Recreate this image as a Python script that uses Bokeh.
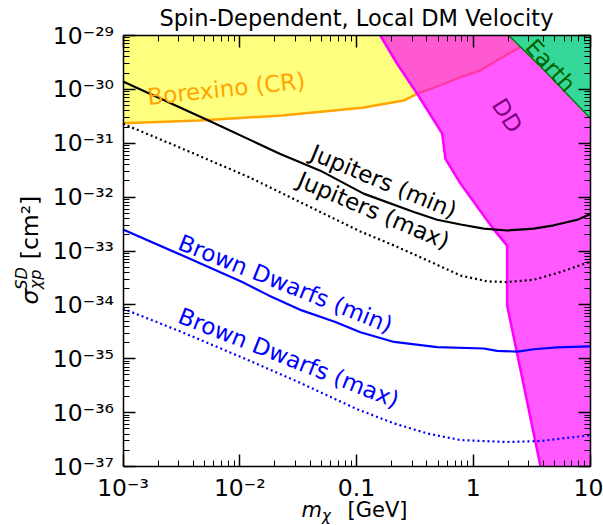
from bokeh.plotting import figure
from bokeh.models import LogAxis, FixedTicker, CustomJSTickFormatter, Label
from bokeh.embed import file_html
from bokeh.resources import INLINE

FONT = "DejaVu Sans"

# ---------------- data ----------------
x_lim = [1e-3, 10.0]
y_lim = [1e-37, 1e-29]
x_ticks = [1e-3, 1e-2, 1e-1, 1.0, 10.0]
x_tick_labels = ["10⁻³", "10⁻²", "0.1", "1", "10"]
y_ticks = [1e-37, 1e-36, 1e-35, 1e-34, 1e-33, 1e-32, 1e-31, 1e-30, 1e-29]
y_tick_labels = ["10⁻³⁷", "10⁻³⁶", "10⁻³⁵", "10⁻³⁴", "10⁻³³",
                 "10⁻³²", "10⁻³¹", "10⁻³⁰", "10⁻²⁹"]

title_text = "Spin-Dependent, Local DM Velocity"

jup_min_m = [0.001, 0.0054, 0.022, 0.049, 0.115, 0.31, 0.49, 0.78, 1.23, 1.95, 3.3, 4.9, 7.8, 10.0]
jup_min_s = [1.4e-30, 2.65e-31, 6.4e-32, 3.1e-32, 1.16e-32, 5.3e-33, 3.8e-33, 3.1e-33,
             2.6e-33, 2.4e-33, 2.6e-33, 3.0e-33, 3.8e-33, 4.8e-33]

jup_max_m = [0.001, 0.0032, 0.012, 0.108, 0.209, 0.404, 0.78, 1.32, 1.95, 3.3, 5.6, 10.0]
jup_max_s = [2.3e-31, 8.0e-32, 2.35e-32, 2.3e-33, 1.27e-33, 6.7e-34, 3.5e-34, 2.73e-34,
             2.65e-34, 2.93e-34, 4.07e-34, 6.3e-34]

bd_min_m = [0.001, 0.0032, 0.0105, 0.0177, 0.034, 0.066, 0.108, 0.21, 0.49, 1.23, 1.6, 2.4, 3.3, 5.2, 10.0]
bd_min_s = [2.5e-33, 8.3e-34, 2.65e-34, 1.5e-34, 7.9e-35, 4.8e-35, 3.1e-35, 2.05e-35,
            1.65e-35, 1.55e-35, 1.4e-35, 1.36e-35, 1.5e-35, 1.62e-35, 1.7e-35]

bd_max_m = [0.001, 0.00316, 0.01, 0.0316, 0.1, 0.21, 0.41, 0.78, 1.95, 3.8, 6.3, 10.0]
bd_max_s = [8.5e-35, 3.16e-35, 1.1e-35, 3.72e-36, 1.17e-36, 6.3e-37, 4.07e-37, 3.09e-37,
            2.85e-37, 2.97e-37, 3.39e-37, 3.8e-37]

borexino_m = [0.001, 0.0045, 0.023, 0.112, 0.254, 0.331, 0.5, 0.78, 1.15, 1.5, 2.38, 3.55]
borexino_s = [2.36e-31, 2.65e-31, 3.28e-31, 4.57e-31, 6.2e-31, 8.3e-31, 1.15e-30, 1.69e-30,
              2.24e-30, 3.2e-30, 5.66e-30, 1e-29]

dd_m = [0.16, 0.223, 0.331, 0.542, 0.578, 0.778, 1.45, 1.95, 1.95, 3.77]
dd_s = [1e-29, 2.99e-30, 8.3e-31, 1.51e-31, 5.13e-32, 1.78e-32, 2.75e-33, 1.26e-33, 9.8e-35, 1e-37]

earth_m = [2.02, 4.3, 10.0]
earth_s = [1e-29, 2.0e-30, 2.95e-31]

# ---------------- layout (pixels of the data box inside the canvas) ----------------
W, H = 603, 525
BOX_L, BOX_R, BOX_T, BOX_B = 122.5, 589.5, 35.0, 466.0

xd = (BOX_R - BOX_L) / 4.0      # pixels per decade (4 decades)
yd = (BOX_B - BOX_T) / 8.0      # pixels per decade (8 decades)
x_start = x_lim[0] / 10 ** (BOX_L / xd)
x_end = x_lim[1] * 10 ** ((W - BOX_R) / xd)
y_start = y_lim[0] / 10 ** ((H - BOX_B) / yd)
y_end = y_lim[1] * 10 ** (BOX_T / yd)

p = figure(width=W, height=H, x_axis_type="log", y_axis_type="log",
           x_range=(x_start, x_end), y_range=(y_start, y_end),
           output_backend="svg", toolbar_location=None, title=None,
           min_border=0, min_border_left=0, min_border_right=0,
           min_border_top=0, min_border_bottom=0)
p.grid.visible = False
p.outline_line_color = None
p.background_fill_color = "white"
p.border_fill_color = "white"

x_minor = [k * t for t in x_ticks[:-1] for k in range(2, 10)]
y_minor = [k * t for t in y_ticks[:-1] for k in range(2, 10)]


def fmt(vals, labels):
    return CustomJSTickFormatter(args=dict(tvals=vals, tlabels=labels), code="""
        for (let i = 0; i < tvals.length; i++) {
            if (Math.abs(Math.log10(tick) - Math.log10(tvals[i])) < 1e-6) return tlabels[i];
        }
        return "";
    """)


def style(ax, vals, minor, show):
    ax.ticker = FixedTicker(ticks=vals, minor_ticks=minor)
    ax.major_tick_in = 12
    ax.major_tick_out = 0
    ax.minor_tick_in = 6
    ax.minor_tick_out = 0
    ax.major_tick_line_width = 1.5
    ax.minor_tick_line_width = 1
    ax.major_tick_line_color = "black"
    ax.minor_tick_line_color = "black"
    ax.axis_line_color = "black"
    ax.axis_line_width = 1.5
    ax.major_label_text_font = FONT
    ax.major_label_text_color = "black"
    if not show:
        ax.formatter = CustomJSTickFormatter(code="return '';")
        ax.major_label_text_font_size = "0px"
        ax.major_label_standoff = 0


xa = p.xaxis[0]
ya = p.yaxis[0]
style(xa, x_ticks, x_minor, True)
style(ya, y_ticks, y_minor, True)
xa.fixed_location = y_lim[0]
xa.bounds = (x_lim[0], x_lim[1])
ya.fixed_location = x_lim[0]
ya.bounds = (y_lim[0], y_lim[1])
xa.formatter = fmt(x_ticks, x_tick_labels)
ya.formatter = fmt(y_ticks, y_tick_labels)
xa.major_label_text_font_size = "23.5px"
ya.major_label_text_font_size = "23.5px"
xa.major_label_standoff = 7
ya.major_label_standoff = 9

top = LogAxis(fixed_location=y_lim[1], bounds=(x_lim[0], x_lim[1]))
right = LogAxis(fixed_location=x_lim[1], bounds=(y_lim[0], y_lim[1]))
style(top, x_ticks, x_minor, False)
style(right, y_ticks, y_minor, False)
p.add_layout(top, "above")
p.add_layout(right, "right")

# ---------------- regions ----------------
p.patch(borexino_m + [x_lim[0]], borexino_s + [y_lim[1]],
        fill_color="yellow", fill_alpha=0.5, line_color=None)
p.line(borexino_m, borexino_s, line_color="orange", line_width=2.5, line_join="round")

p.patch(dd_m + [x_lim[1], x_lim[1]], dd_s + [y_lim[0], y_lim[1]],
        fill_color="magenta", fill_alpha=0.65, line_color=None)
p.line(dd_m, dd_s, line_color="magenta", line_width=2.5)

p.patch(earth_m + [x_lim[1]], earth_s + [y_lim[1]],
        fill_color="#36d89a", fill_alpha=1.0, line_color=None)
p.line(earth_m, earth_s, line_color="green", line_width=1.5)

# ---------------- curves ----------------
p.line(jup_min_m, jup_min_s, line_color="black", line_width=2.2, line_join="round")
p.line(jup_max_m, jup_max_s, line_color="black", line_width=2.2, line_dash="2 3")
p.line(bd_min_m, bd_min_s, line_color="blue", line_width=2.2, line_join="round")
p.line(bd_max_m, bd_max_s, line_color="blue", line_width=2.2, line_dash="2 3")

# ---------------- in-plot labels ----------------
texts = [
    ("Jupiters (min)", 0.171, 1.95e-32, -22.5, "black"),
    ("Jupiters (max)", 0.140, 5.66e-33, -23.0, "black"),
    ("Brown Dwarfs (min)", 0.0247, 2.47e-34, -21.7, "blue"),
    ("Brown Dwarfs (max)", 0.0263, 1.04e-35, -21.5, "blue"),
    ("Borexino (CR)", 0.00766, 1.03e-30, 6.0, "orange"),
    ("DD", 1.954, 3.28e-31, -58.0, "purple"),
    ("Earth", 4.59, 2.77e-30, -48.0, "darkgreen"),
]
for t, x, y, a, c in texts:
    p.add_layout(Label(x=x, y=y, text=t, angle=a, angle_units="deg",
                       text_align="center", text_baseline="middle",
                       text_font=FONT, text_font_size="23px", text_color=c))


# ---------------- title and axis titles (centres in canvas pixels) ----------------
def sl(text, cx, cy, size, italic=False, angle=0):
    p.add_layout(Label(x=cx, y=H - cy, x_units="screen", y_units="screen",
                       text=text, angle=angle, angle_units="deg",
                       text_align="center", text_baseline="middle",
                       text_font=FONT, text_font_size=size,
                       text_font_style="italic" if italic else "normal",
                       text_color="black"))


sl(title_text, (BOX_L + BOX_R) / 2, 17, "22.5px")

# x label: m_chi [GeV]
sl("m", 311.2, 509, "21px", True)
sl("χ", 326, 515, "15px", True)
sl("[GeV]", 377, 509, "21px")

# y label: sigma^SD_chi p [cm^2]
sl("σ", 29, 296.5, "23.5px", True, 90)
sl("SD", 20.5, 278, "16px", True, 90)
sl("χp", 34.5, 279, "16px", True, 90)
sl("[cm²]", 29, 227, "23.5px", False, 90)

open("out.html", "w").write(file_html(p, INLINE))
